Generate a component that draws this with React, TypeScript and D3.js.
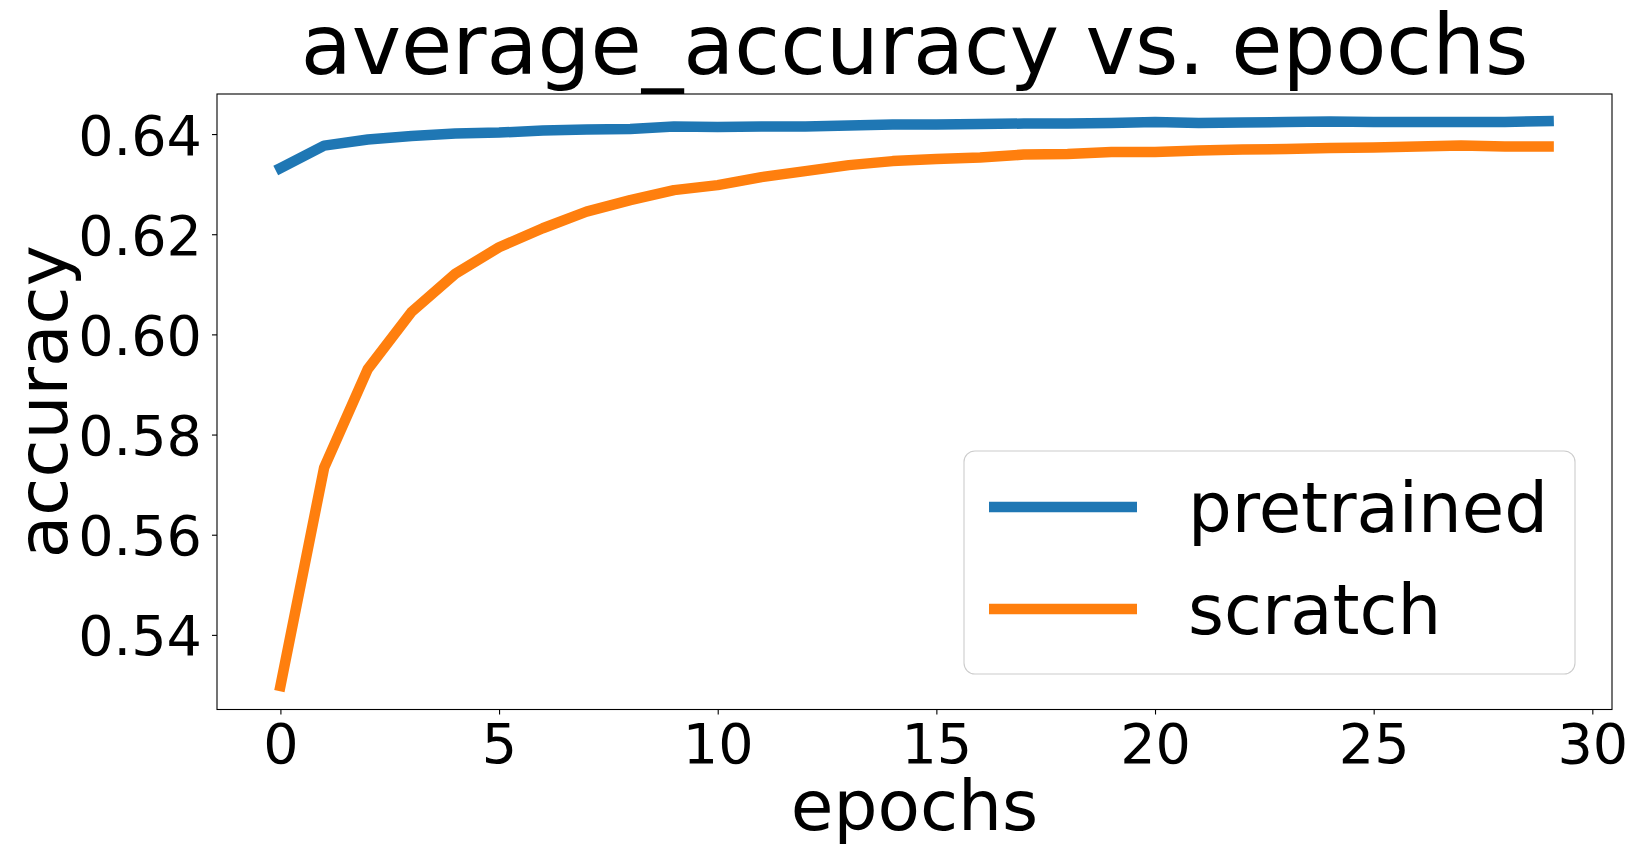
import React, { useRef, useEffect } from 'react';
import * as d3 from 'd3';

const epochs = d3.range(0, 30);

const pretrained = [
  0.6332, 0.6377, 0.6389, 0.6396, 0.6401, 0.6403, 0.6407, 0.6409, 0.641, 0.6415,
  0.6414, 0.6415, 0.6415, 0.6417, 0.6419, 0.6419, 0.642, 0.6421, 0.6421, 0.6422,
  0.6424, 0.6422, 0.6423, 0.6424, 0.6425, 0.6424, 0.6424, 0.6424, 0.6424, 0.6426,
];

const scratch = [
  0.5298, 0.5734, 0.5931, 0.6045, 0.6121, 0.6174, 0.6212, 0.6245, 0.6268, 0.6288,
  0.6298, 0.6314, 0.6326, 0.6338, 0.6346, 0.635, 0.6353, 0.6359, 0.636, 0.6364,
  0.6364, 0.6367, 0.6369, 0.637, 0.6372, 0.6373, 0.6375, 0.6377, 0.6375, 0.6375,
];

const xTicks = [0, 5, 10, 15, 20, 25, 30];
const yTicks = [0.54, 0.56, 0.58, 0.6, 0.62, 0.64];

const seriesNames = ['pretrained', 'scratch'];
const seriesColors = ['#1f77b4', '#ff7f0e'];

const W = 1636;
const H = 856;
const FONT = '"DejaVu Sans", sans-serif';

const App: React.FC = () => {
  const svgRef = useRef<SVGSVGElement | null>(null);

  useEffect(() => {
    const svg = d3.select(svgRef.current!);
    svg.selectAll('*').remove();

    const left = 217, right = 1612, top = 94, bottom = 709.5;

    const x = d3.scaleLinear().domain([-1.45, 30.45]).range([left, right]);
    const y = d3.scaleLinear().domain([0.5251, 0.648]).range([bottom, top]);

    svg.append('rect').attr('width', W).attr('height', H).attr('fill', '#fff');

    const line = d3.line<number>()
      .x((_, i) => x(epochs[i]))
      .y((d) => y(d));

    [pretrained, scratch].forEach((s, k) => {
      svg.append('path')
        .datum(s)
        .attr('d', line)
        .attr('fill', 'none')
        .attr('stroke', seriesColors[k])
        .attr('stroke-width', 10.5)
        .attr('stroke-linejoin', 'round')
        .attr('stroke-linecap', 'square');
    });

    // axes
    const xAxis = svg.append('g')
      .attr('transform', `translate(0,${bottom})`)
      .call(d3.axisBottom(x).tickValues(xTicks).tickFormat(d3.format('d')).tickSize(5).tickPadding(8));
    const yAxis = svg.append('g')
      .attr('transform', `translate(${left},0)`)
      .call(d3.axisLeft(y).tickValues(yTicks).tickFormat(d3.format('.2f')).tickSize(5).tickPadding(10));

    [xAxis, yAxis].forEach((g) => {
      g.select('.domain').remove();
      g.selectAll('line').attr('stroke', '#000').attr('stroke-width', 1.1);
      g.selectAll('text')
        .attr('fill', '#000')
        .style('font-family', FONT)
        .style('font-size', '55.6px');
    });
    xAxis.selectAll('text').attr('dy', null).attr('y', 53);
    yAxis.selectAll('text').attr('dy', '0.36em');

    // frame
    svg.append('rect')
      .attr('x', left).attr('y', top)
      .attr('width', right - left).attr('height', bottom - top)
      .attr('fill', 'none').attr('stroke', '#000').attr('stroke-width', 1.1);

    // title and labels
    svg.append('text')
      .attr('x', (left + right) / 2).attr('y', 74)
      .attr('text-anchor', 'middle')
      .style('font-family', FONT).style('font-size', '83.3px')
      .text('average_accuracy vs. epochs');

    svg.append('text')
      .attr('x', (left + right) / 2).attr('y', 830)
      .attr('text-anchor', 'middle')
      .style('font-family', FONT).style('font-size', '69.4px')
      .text('epochs');

    svg.append('text')
      .attr('transform', `translate(67,${(top + bottom) / 2}) rotate(-90)`)
      .attr('text-anchor', 'middle')
      .style('font-family', FONT).style('font-size', '69.4px')
      .text('accuracy');

    // legend
    const lg = svg.append('g');
    lg.append('rect')
      .attr('x', 964).attr('y', 451)
      .attr('width', 611).attr('height', 223)
      .attr('rx', 11).attr('ry', 11)
      .attr('fill', '#fff').attr('fill-opacity', 0.8)
      .attr('stroke', '#cccccc').attr('stroke-width', 1.1);

    seriesNames.forEach((name, k) => {
      const cy = 507 + k * 102;
      lg.append('line')
        .attr('x1', 989).attr('x2', 1137)
        .attr('y1', cy).attr('y2', cy)
        .attr('stroke', seriesColors[k]).attr('stroke-width', 10.5);
      lg.append('text')
        .attr('x', 1188).attr('y', cy + 25)
        .style('font-family', FONT).style('font-size', '69px')
        .text(name);
    });
  }, []);

  return (
    <svg
      ref={svgRef}
      width={W}
      height={H}
      style={{ position: 'absolute', left: 0, top: 0 }}
    />
  );
};

export default App;
